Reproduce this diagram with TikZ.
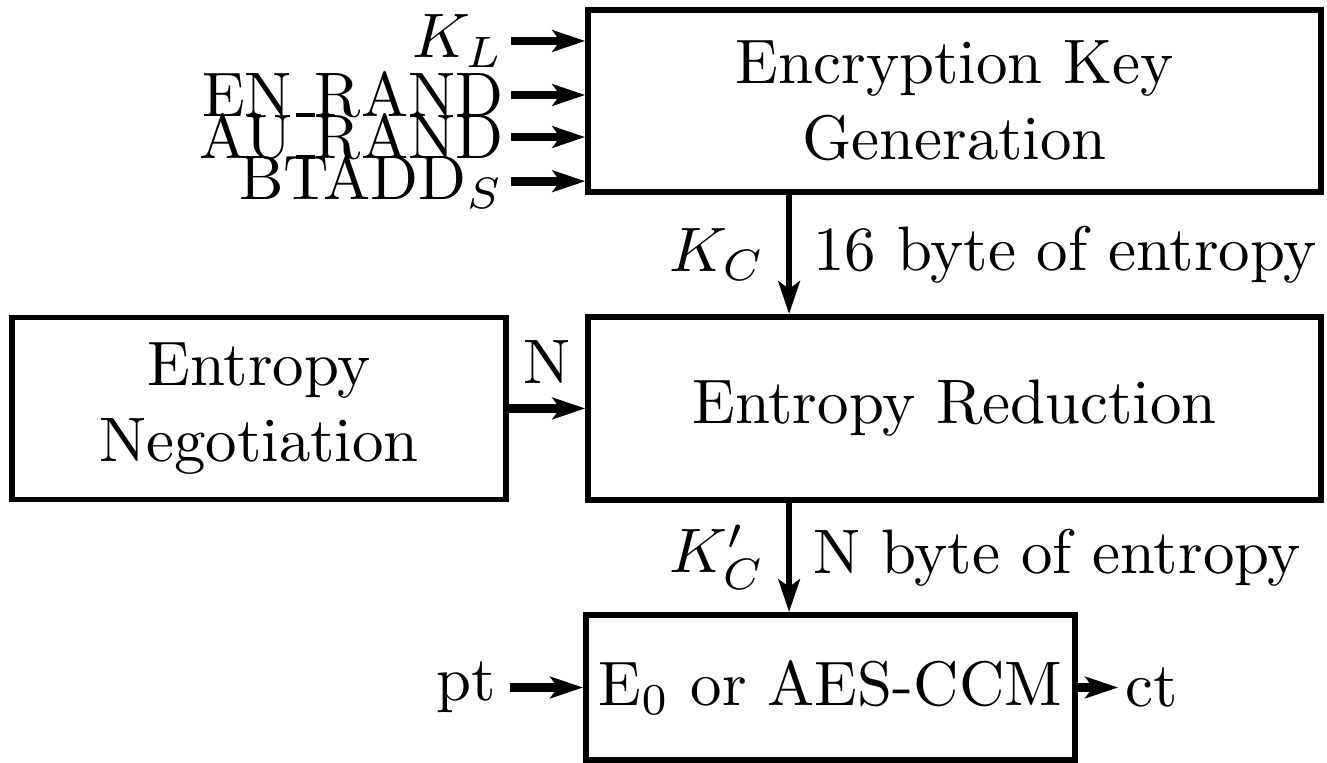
\documentclass[tikz,border=0pt]{standalone}
\usepackage{tikz}
\usetikzlibrary{arrows.meta, positioning, calc}
\newcommand\usc{\leavevmode\kern.06em\vbox{\hrule width .3em height .55pt}}
\tikzset{
  blk/.style args={#1/#2}{
    rectangle, draw=black, line width=0.9pt,
    align=center, inner sep=2pt,
    minimum width=#1, minimum height=#2,
  },
  arr/.style args={#1}{
    -{Stealth[length=5.2pt,width=3.4pt,inset=1.2pt]},
    line width=#1,
  },
  lbl/.style={
    inner xsep=1pt, inner ysep=0pt,
  },
}
\begin{document}
\begin{tikzpicture}[x=1cm,y=1cm]
    \useasboundingbox (0,0) rectangle (7.418,4.265);
    \node[blk=4.097cm/1.017cm] (keygen) at (5.336,3.701) {Encryption Key\\Generation};
    \node[blk=4.097cm/1.023cm] (reduce) at (5.336,1.982) {Entropy Reduction};
    \node[blk=2.761cm/1.017cm] (negot)  at (1.448,1.982) {Entropy\\Negotiation};
    \node[blk=2.734cm/0.811cm] (cipher) at (4.642,0.422) {E$_0$ or AES-CCM};

    % inputs of the key generation
    \node[lbl,anchor=east] (kl)  at (2.856,4.036) {$K_L$};
    \node[lbl,anchor=east] (enr) at (2.856,3.734) {EN\usc RAND};
    \node[lbl,anchor=east] (aur) at (2.856,3.499) {AU\usc RAND};
    \node[lbl,anchor=east] (bta) at (2.856,3.252) {BTADD$_S$};
    \draw[arr=1.4pt](kl.east)--(kl.east -| keygen.west);
    \draw[arr=1.4pt](enr.east)--(enr.east -| keygen.west);
    \draw[arr=1.4pt](aur.east)--(aur.east -| keygen.west);
    \draw[arr=1.4pt](bta.east)--(bta.east -| keygen.west);

    \coordinate (tap) at (4.411,0);
    \draw[arr=1.05pt](keygen.south -| tap)--(reduce.north -| tap)
        node[midway,left]{$K_C$} node[midway,right]{16 byte of entropy};
    \draw[arr=1.05pt](reduce.south -| tap)--(cipher.north -| tap)
        node[midway,left]{$K'_C$} node[midway,right]{N byte of entropy};
    \draw[arr=1.4pt](negot.east)--(reduce.west) node[midway,above]{N};

    \node[inner sep=2pt,left=0.41cm of cipher] (pt) {pt};
    \node[lbl,right=0.225cm of cipher] (ct) {ct};
    \draw[arr=1.4pt](pt)--(cipher); \draw[arr=1.4pt](cipher)--(ct);
  \end{tikzpicture}
\end{document}
